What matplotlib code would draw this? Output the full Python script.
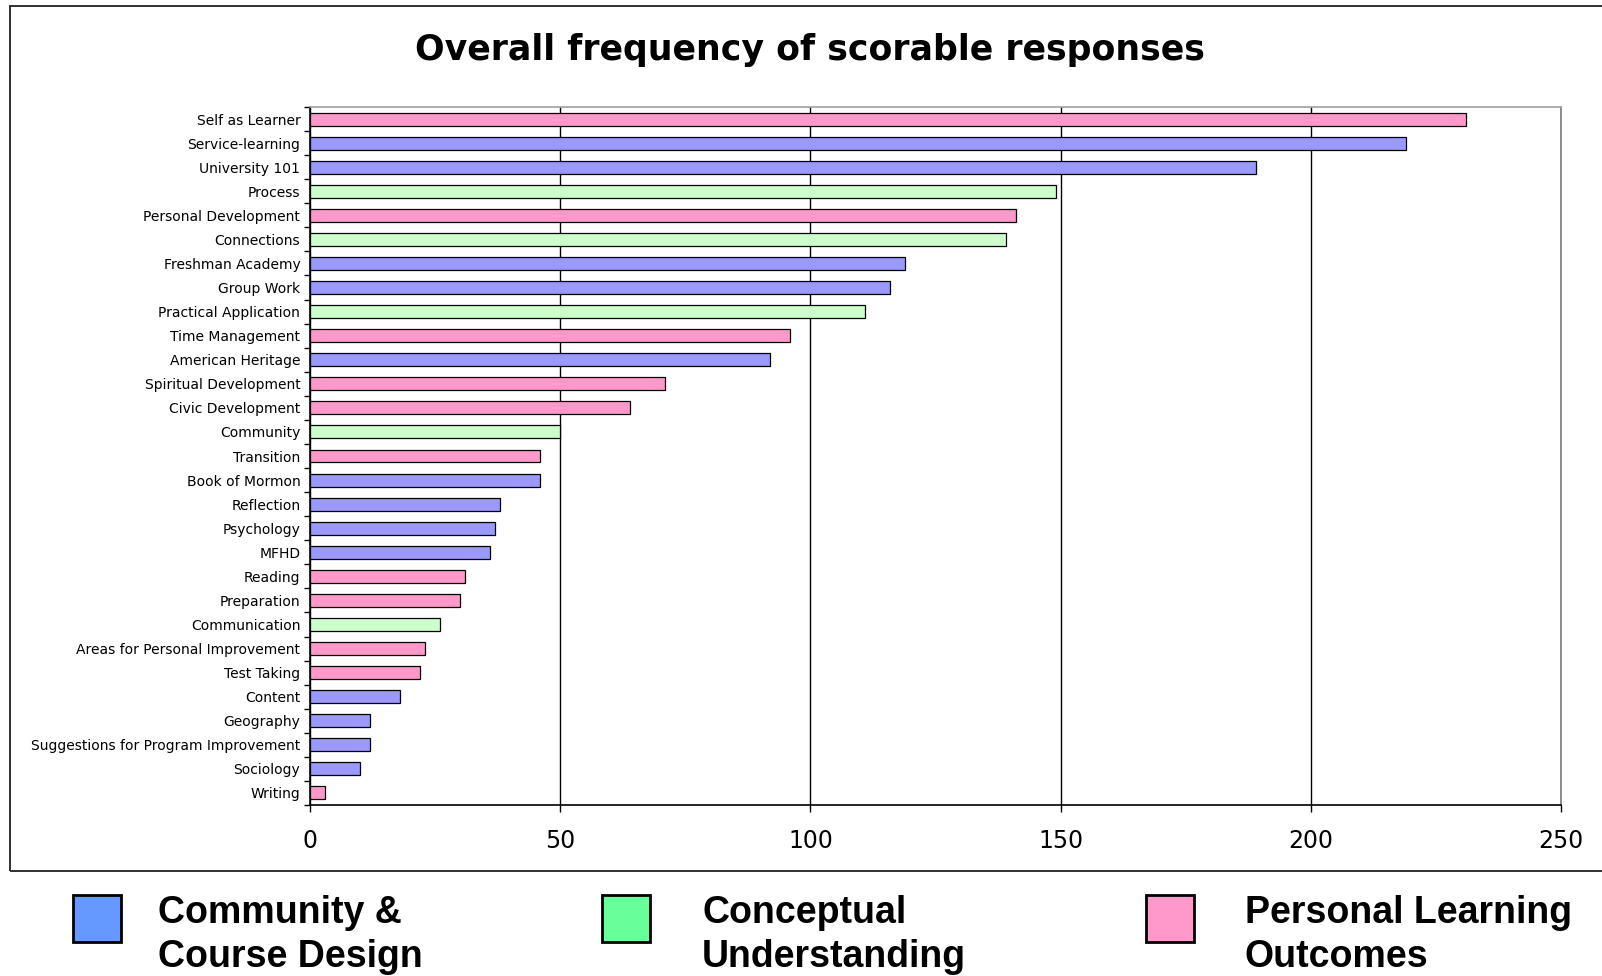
import matplotlib
matplotlib.use("Agg")
import matplotlib.pyplot as plt
from matplotlib.patches import Rectangle
from matplotlib.ticker import FixedLocator
import numpy as np

# response categories, top to bottom
categories = ["Self as Learner", "Service-learning", "University 101", "Process",
              "Personal Development", "Connections", "Freshman Academy", "Group Work",
              "Practical Application", "Time Management", "American Heritage",
              "Spiritual Development", "Civic Development", "Community", "Transition",
              "Book of Mormon", "Reflection", "Psychology", "MFHD", "Reading",
              "Preparation", "Communication", "Areas for Personal Improvement",
              "Test Taking", "Content", "Geography",
              "Suggestions for Program Improvement", "Sociology", "Writing"]
counts = [231, 219, 189, 149, 141, 139, 119, 116, 111, 96, 92, 71, 64, 50, 46,
          46, 38, 37, 36, 31, 30, 26, 23, 22, 18, 12, 12, 10, 3]
# C = community & course design, U = conceptual understanding, P = personal learning
groups = ["P", "C", "C", "U", "P", "U", "C", "C", "U", "P", "C", "P", "P", "U", "P",
          "C", "C", "C", "C", "P", "P", "U", "P", "P", "C", "C", "C", "C", "P"]

group_names = ["Community &\nCourse Design", "Conceptual\nUnderstanding",
               "Personal Learning\nOutcomes"]
bar_col = {"C": "#9999ff", "U": "#ccffcc", "P": "#ff99cc"}
key_col = ["#6699ff", "#66ff99", "#ff99cc"]

W, H = 1602, 976
fig = plt.figure(figsize=(W/100, H/100), dpi=100)

# outer chart frame
fig.add_artist(Rectangle((10/W, 1-871/H), (1620-10)/W, (871-6)/H,
                         transform=fig.transFigure, fill=False,
                         edgecolor="#202020", lw=1.3))

ax = fig.add_axes([310/W, 1-805/H, (1561-310)/W, (805-107)/H])
y = np.arange(len(categories))
ax.barh(y, counts, height=0.54, color=[bar_col[g] for g in groups],
        edgecolor="black", linewidth=0.9, zorder=3)

ax.set_xlim(0, 250)
ax.set_ylim(len(categories)-0.5, -0.5)
ax.set_xticks(np.arange(0, 251, 50))
ax.set_yticks(y)
ax.set_yticklabels(categories, fontsize=10, family="DejaVu Sans", va="bottom")
for lbl in ax.get_yticklabels():
    lbl.set_va("center_baseline")
ax.yaxis.set_minor_locator(FixedLocator(np.arange(-0.5, len(categories), 1)))
ax.tick_params(axis="y", which="major", length=0, pad=7)
ax.tick_params(axis="y", which="minor", length=4, width=1, direction="out")
ax.tick_params(axis="x", length=5, width=1, direction="out", pad=12, labelsize=17)
for lbl in ax.get_xticklabels():
    lbl.set_family("DejaVu Sans")

ax.grid(axis="x", color="black", lw=1, zorder=0)
ax.set_axisbelow(True)
ax.spines["left"].set_color("black")
ax.spines["bottom"].set_color("black")
ax.spines["top"].set_color("#a0a0a0")
ax.spines["right"].set_color("#808080")
for s in ax.spines.values():
    s.set_linewidth(1.2)

fig.text(810/W, 1-50/H, "Overall frequency of scorable responses",
         ha="center", va="center", fontsize=25, fontweight="bold",
         family="DejaVu Sans")

# legend keys below the frame
key_x = [73, 602, 1146]
text_x = [158, 702, 1245]
for kx, tx, c, name in zip(key_x, text_x, key_col, group_names):
    fig.add_artist(Rectangle((kx/W, 1-942/H), 48/W, 47/H,
                             transform=fig.transFigure, facecolor=c,
                             edgecolor="black", lw=2))
    fig.text(tx/W, 1-895/H, name, ha="left", va="top", fontsize=27,
             fontweight="bold", family="Liberation Sans", linespacing=1.27)

fig.savefig("out.png", dpi=100)
